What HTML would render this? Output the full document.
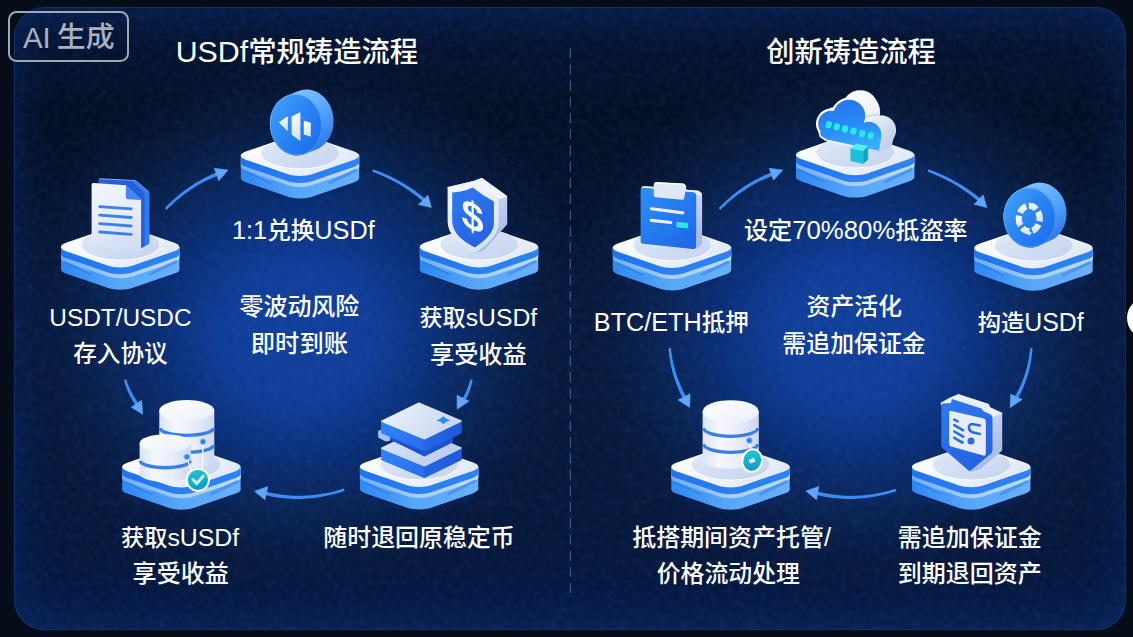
<!DOCTYPE html>
<html lang="zh-CN">
<head>
<meta charset="utf-8">
<title>USDf 铸造流程</title>
<style>
html,body{margin:0;padding:0;background:#050d19;}
body{width:1133px;height:637px;overflow:hidden;position:relative;font-family:"Liberation Sans",sans-serif;}
#stage{position:absolute;left:0;top:0;width:1133px;height:637px;overflow:hidden;background:#050d19;}
#art{position:absolute;left:0;top:0;display:block;}
.lbl{font-family:"Liberation Sans","Noto Sans CJK SC",sans-serif;font-weight:500;}
.panel{position:absolute;left:14px;top:7px;width:1112px;height:622.5px;border-radius:30px;background:linear-gradient(180deg,#071738 0%,#040f22 17%,#061738 50%,#06173a 88%,#081c46 100%);box-shadow:inset 0 0 46px 2px rgba(14,56,130,.42),inset 0 0 0 1px rgba(18,66,150,.55);}
.badge{position:absolute;box-sizing:border-box;left:8px;top:10.5px;width:121.2px;height:51.2px;border:2.5px solid #a0a8b6;border-radius:8.5px;background:transparent;}
</style>
</head>
<body>
<div id="stage">
<div class="panel"></div>
<svg id="art" width="1133" height="637" viewBox="0 0 1133 637">
<defs>
<radialGradient id="glow" cx="0" cy="0" r="1" gradientUnits="userSpaceOnUse" gradientTransform="translate(300 334) scale(300 275)">
<stop offset="0" stop-color="#11409b"/><stop offset=".25" stop-color="#103e97"/><stop offset=".37" stop-color="#0d3584"/><stop offset=".45" stop-color="#0b2f76"/><stop offset=".65" stop-color="#0a2454" stop-opacity=".95"/><stop offset=".82" stop-color="#091c40" stop-opacity=".7"/><stop offset="1" stop-color="#081a3c" stop-opacity="0"/>
</radialGradient>
<radialGradient id="glow2" cx="0" cy="0" r="1" gradientUnits="userSpaceOnUse" gradientTransform="translate(854 334) scale(300 275)">
<stop offset="0" stop-color="#11409b"/><stop offset=".25" stop-color="#103e97"/><stop offset=".37" stop-color="#0d3584"/><stop offset=".45" stop-color="#0b2f76"/><stop offset=".65" stop-color="#0a2454" stop-opacity=".95"/><stop offset=".82" stop-color="#091c40" stop-opacity=".7"/><stop offset="1" stop-color="#081a3c" stop-opacity="0"/>
</radialGradient>
<linearGradient id="ptop" x1="0" y1="0" x2="1" y2=".6">
<stop offset="0" stop-color="#ffffff"/><stop offset=".55" stop-color="#f2f6fd"/><stop offset="1" stop-color="#dfe8f8"/>
</linearGradient>
<linearGradient id="pind" x1="0" y1="0" x2="1" y2="1">
<stop offset="0" stop-color="#e3eaf8"/><stop offset="1" stop-color="#c3d2ef"/>
</linearGradient>
<linearGradient id="pb1" x1="0" y1="0" x2="1" y2="0">
<stop offset="0" stop-color="#1f73f0"/><stop offset=".5" stop-color="#2a7ff2"/><stop offset="1" stop-color="#2d83f3"/>
</linearGradient>
<linearGradient id="plt" x1="0" y1="0" x2="1" y2="0">
<stop offset="0" stop-color="#6cadf7"/><stop offset=".5" stop-color="#a8cefa"/><stop offset="1" stop-color="#bfdbfc"/>
</linearGradient>
<linearGradient id="pb2" x1="0" y1="0" x2="1" y2="0">
<stop offset="0" stop-color="#2f88f4"/><stop offset=".5" stop-color="#58a7f8"/><stop offset="1" stop-color="#69b1fa"/>
</linearGradient>
<pattern id="spk" width="131" height="113" patternUnits="userSpaceOnUse">
<g fill="#3f6fc4"><circle cx="12" cy="18" r="2.2" opacity=".05"/><circle cx="47" cy="9" r="1.6" opacity=".06"/><circle cx="88" cy="27" r="2.6" opacity=".04"/><circle cx="120" cy="50" r="1.8" opacity=".06"/><circle cx="30" cy="60" r="2.8" opacity=".04"/><circle cx="70" cy="74" r="1.5" opacity=".07"/><circle cx="104" cy="92" r="2.3" opacity=".05"/><circle cx="18" cy="99" r="1.7" opacity=".06"/><circle cx="58" cy="41" r="1.2" opacity=".07"/><circle cx="95" cy="62" r="1.3" opacity=".06"/><circle cx="40" cy="88" r="2" opacity=".04"/><circle cx="125" cy="8" r="1.4" opacity=".06"/></g>
</pattern>
<filter id="nz" x="0" y="0" width="100%" height="100%" color-interpolation-filters="sRGB"><feTurbulence type="fractalNoise" baseFrequency=".15" numOctaves="1" seed="7" result="n"/><feColorMatrix in="n" type="matrix" values="0 0 0 0 .22  0 0 0 0 .42  0 0 0 0 .82  1.8 0 0 0 -.66"/></filter>
<clipPath id="panelclip"><rect x="14" y="7" width="1112" height="622.5" rx="30" ry="30"/></clipPath>
<linearGradient id="docf" x1="0" y1="0" x2=".25" y2="1"><stop offset="0" stop-color="#f2f5fc"/><stop offset=".6" stop-color="#e6ecf9"/><stop offset="1" stop-color="#d5dff4"/></linearGradient>
<linearGradient id="coinf" x1=".1" y1=".1" x2=".9" y2=".95"><stop offset="0" stop-color="#3f9ef9"/><stop offset=".45" stop-color="#2b85f4"/><stop offset="1" stop-color="#1d6ce9"/></linearGradient>
<linearGradient id="coins" x1=".3" y1="0" x2=".8" y2="1"><stop offset="0" stop-color="#86c7fd"/><stop offset=".45" stop-color="#55a5f8"/><stop offset="1" stop-color="#2a6fe6"/></linearGradient>
<linearGradient id="symw" x1="0" y1="0" x2=".4" y2="1"><stop offset="0" stop-color="#ffffff"/><stop offset="1" stop-color="#d6e4fb"/></linearGradient>
<linearGradient id="shf" x1="0" y1="0" x2=".6" y2="1"><stop offset="0" stop-color="#2f7af0"/><stop offset="1" stop-color="#2463e2"/></linearGradient>
<linearGradient id="shw" x1="0" y1="0" x2=".5" y2="1"><stop offset="0" stop-color="#f6f8fd"/><stop offset="1" stop-color="#d9e3f6"/></linearGradient>
<linearGradient id="shs" x1="0" y1="0" x2=".3" y2="1"><stop offset="0" stop-color="#dce5f7"/><stop offset="1" stop-color="#a9bce7"/></linearGradient>
<linearGradient id="blkT" x1="0" y1="0" x2="1" y2=".3"><stop offset="0" stop-color="#eef3fc"/><stop offset="1" stop-color="#cbd8f2"/></linearGradient>
<linearGradient id="blkT2" x1="0" y1="0" x2="1" y2=".3"><stop offset="0" stop-color="#dbe5f8"/><stop offset="1" stop-color="#bccdf0"/></linearGradient>
<linearGradient id="blkL" x1="0" y1="0" x2="1" y2=".4"><stop offset="0" stop-color="#2f86f5"/><stop offset="1" stop-color="#2a70ee"/></linearGradient>
<linearGradient id="blkR" x1="0" y1="0" x2="1" y2="0"><stop offset="0" stop-color="#2566e4"/><stop offset="1" stop-color="#1f5ad8"/></linearGradient>
<linearGradient id="cylb" x1="0" y1="0" x2="1" y2="0"><stop offset="0" stop-color="#dbe4f6"/><stop offset=".3" stop-color="#f4f7fd"/><stop offset=".65" stop-color="#e7edf9"/><stop offset="1" stop-color="#ccd8f1"/></linearGradient>
<linearGradient id="cylt" x1="0" y1="0" x2="1" y2="1"><stop offset="0" stop-color="#ffffff"/><stop offset="1" stop-color="#e9eefa"/></linearGradient>
<linearGradient id="teal" x1="0" y1="0" x2=".3" y2="1"><stop offset="0" stop-color="#28cbdb"/><stop offset="1" stop-color="#0c9cc2"/></linearGradient>
<linearGradient id="clipf" x1="0" y1="0" x2=".8" y2="1"><stop offset="0" stop-color="#2d90f7"/><stop offset="1" stop-color="#1e69e8"/></linearGradient>
<linearGradient id="cldf" gradientUnits="userSpaceOnUse" x1="-10" y1="-55" x2="0" y2="-5"><stop offset="0" stop-color="#2873ef"/><stop offset=".55" stop-color="#2b8cf5"/><stop offset="1" stop-color="#36b0f9"/></linearGradient>
<linearGradient id="cldw" gradientUnits="userSpaceOnUse" x1="-20" y1="-60" x2="35" y2="-5"><stop offset="0" stop-color="#ffffff"/><stop offset=".5" stop-color="#eef2fb"/><stop offset="1" stop-color="#bccbec"/></linearGradient>
<g id="plat">
<ellipse cx="0" cy="27" rx="56" ry="17" fill="#0a2a78" opacity=".2"/>
<path d="M12.02,3.72L54.22,18.26C60.86,20.55 60.86,24.25 54.22,26.54L12.02,41.08C5.38,43.37 -5.38,43.37 -12.02,41.08L-54.22,26.54C-60.86,24.25 -60.86,20.55 -54.22,18.26L-12.02,3.72C-5.38,1.43 5.38,1.43 12.02,3.72Z" fill="url(#pb2)"/><rect x="-59.2" y="0" width="118.4" height="22.4" fill="url(#pb2)"/>
<path d="M12.02,-7.78L54.22,6.76C60.86,9.05 60.86,12.75 54.22,15.04L12.02,29.58C5.38,31.87 -5.38,31.87 -12.02,29.58L-54.22,15.04C-60.86,12.75 -60.86,9.05 -54.22,6.76L-12.02,-7.78C-5.38,-10.07 5.38,-10.07 12.02,-7.78Z" fill="url(#plt)"/><rect x="-59.2" y="0" width="118.4" height="10.9" fill="url(#plt)"/>
<path d="M12.02,-11.78L54.22,2.76C60.86,5.05 60.86,8.75 54.22,11.04L12.02,25.58C5.38,27.87 -5.38,27.87 -12.02,25.58L-54.22,11.04C-60.86,8.75 -60.86,5.05 -54.22,2.76L-12.02,-11.78C-5.38,-14.07 5.38,-14.07 12.02,-11.78Z" fill="url(#pb1)"/><rect x="-59.2" y="0" width="118.4" height="6.9" fill="url(#pb1)"/>
<path d="M12.02,-18.68L54.22,-4.14C60.86,-1.85 60.86,1.85 54.22,4.14L12.02,18.68C5.38,20.97 -5.38,20.97 -12.02,18.68L-54.22,4.14C-60.86,1.85 -60.86,-1.85 -54.22,-4.14L-12.02,-18.68C-5.38,-20.97 5.38,-20.97 12.02,-18.68Z" fill="url(#ptop)"/>
<ellipse cx="0.2" cy="-2.2" rx="38.8" ry="15.2" fill="url(#pind)"/>
<path d="M-37.6,1.4A38.8,15.2 0 0 0 38,1.4" fill="none" stroke="#fff" stroke-opacity=".8" stroke-width="1"/>
<path d="M-55.2,15.2L-29.8,26.8" stroke="#2a78e8" stroke-width="2.4" stroke-linecap="round" opacity=".55"/><path d="M-55.2,13.6L-29.8,25.2" stroke="#7dbafa" stroke-width="1" stroke-linecap="round" opacity=".75"/>
<path d="M30,27L56,14.6" stroke="#4590f2" stroke-width="3" stroke-linecap="round" opacity=".85"/>
</g>
</defs>
<!-- panel glows -->
<g clip-path="url(#panelclip)">
<rect x="14" y="7" width="1112" height="623" fill="url(#glow)"/>
<rect x="14" y="7" width="1112" height="623" fill="url(#glow2)"/>
<rect x="14" y="7" width="1112" height="623" filter="url(#nz)" opacity=".13"/>
<rect x="14" y="7" width="1112" height="623" fill="url(#spk)"/>
</g>
<!-- divider -->
<line x1="570.4" y1="48.3" x2="570.4" y2="594.5" stroke="#5b7db4" stroke-opacity=".6" stroke-width="1.3" stroke-dasharray="10 6.2"/>
<!-- white blob at right edge -->
<circle cx="1147.8" cy="318" r="20.8" fill="#fff"/>
<!-- arrows -->
<path d="M166.6,209.9L168.6,207.8L170.7,205.9L172.7,203.9L174.8,202.1L176.9,200.2L179.0,198.5L181.2,196.7L183.3,195.1L185.5,193.5L187.6,191.9L189.8,190.4L192.0,188.9L194.2,187.5L196.5,186.1L198.7,184.8L201.0,183.5L203.3,182.3L205.5,181.1L207.9,180.0L210.2,179.0L212.5,177.9L214.9,177.0L217.2,176.1L219.6,175.2L218.4,171.8L216.0,172.7L213.5,173.7L211.1,174.8L208.8,175.8L206.4,177.0L204.0,178.2L201.7,179.4L199.4,180.7L197.1,182.0L194.8,183.4L192.6,184.9L190.3,186.4L188.1,187.9L185.9,189.5L183.7,191.1L181.5,192.8L179.4,194.6L177.3,196.3L175.1,198.2L173.0,200.1L170.9,202.0L168.9,204.0L166.8,206.0L164.8,208.1Z" fill="#3b8df6"/><path d="M228.1,170.1L214.3,168.2L218.8,180.8Z" fill="#62a4f8" stroke="#62a4f8" stroke-width=".6" stroke-linejoin="round"/>
<path d="M372.2,171.7L374.6,172.6L377.0,173.5L379.3,174.5L381.7,175.5L384.0,176.5L386.3,177.6L388.6,178.7L390.8,179.8L393.0,180.9L395.2,182.1L397.4,183.3L399.5,184.6L401.6,185.8L403.7,187.1L405.8,188.5L407.8,189.8L409.9,191.2L411.9,192.7L413.8,194.1L415.8,195.6L417.7,197.1L419.6,198.7L421.5,200.3L423.3,201.9L425.7,199.1L423.8,197.5L421.8,196.0L419.8,194.4L417.8,192.9L415.8,191.4L413.8,190.0L411.7,188.5L409.6,187.2L407.5,185.8L405.4,184.5L403.2,183.2L401.0,181.9L398.8,180.7L396.6,179.5L394.3,178.3L392.1,177.2L389.8,176.1L387.4,175.1L385.1,174.0L382.7,173.0L380.3,172.0L377.9,171.1L375.5,170.2L373.0,169.3Z" fill="#3b8df6"/><path d="M431.4,207.5L427.9,195.2L418.5,204.6Z" fill="#62a4f8" stroke="#62a4f8" stroke-width=".6" stroke-linejoin="round"/>
<path d="M470.3,379.3L470.0,380.3L469.8,381.2L469.6,382.1L469.3,383.0L469.0,383.9L468.7,384.8L468.4,385.6L468.1,386.5L467.8,387.3L467.5,388.2L467.2,389.0L466.8,389.8L466.5,390.7L466.1,391.5L465.7,392.3L465.4,393.1L465.0,393.8L464.6,394.6L464.2,395.4L463.7,396.1L463.3,396.9L462.9,397.6L462.4,398.3L462.0,399.1L465.0,400.9L465.5,400.1L465.9,399.4L466.3,398.5L466.8,397.7L467.2,396.9L467.6,396.1L467.9,395.3L468.3,394.4L468.7,393.6L469.0,392.7L469.3,391.8L469.7,391.0L470.0,390.1L470.3,389.2L470.6,388.3L470.9,387.4L471.1,386.5L471.4,385.5L471.6,384.6L471.9,383.7L472.1,382.7L472.3,381.8L472.5,380.8L472.7,379.9Z" fill="#3b8df6"/><path d="M457.2,409.2L457.0,395.2L469.0,401.2Z" fill="#62a4f8" stroke="#62a4f8" stroke-width=".6" stroke-linejoin="round"/>
<path d="M343.9,488.5L340.5,489.5L337.1,490.5L333.7,491.4L330.3,492.2L327.0,492.9L323.6,493.5L320.3,494.1L316.9,494.6L313.6,495.0L310.3,495.3L307.0,495.5L303.8,495.7L300.5,495.8L297.2,495.8L294.0,495.7L290.8,495.6L287.6,495.3L284.4,495.0L281.2,494.6L278.0,494.1L274.9,493.6L271.7,493.0L268.6,492.2L265.4,491.5L264.6,494.9L267.8,495.7L271.0,496.4L274.2,497.0L277.5,497.5L280.8,498.0L284.0,498.3L287.3,498.6L290.6,498.8L293.9,498.9L297.2,498.9L300.6,498.9L303.9,498.7L307.2,498.5L310.6,498.2L314.0,497.9L317.3,497.4L320.7,496.9L324.1,496.3L327.5,495.6L330.9,494.8L334.4,493.9L337.8,493.0L341.2,492.0L344.7,490.9Z" fill="#3b8df6"/><path d="M254.6,491.3L267.8,486.5L264.9,499.7Z" fill="#62a4f8" stroke="#62a4f8" stroke-width=".6" stroke-linejoin="round"/>
<path d="M123.9,379.9L124.2,381.1L124.5,382.2L124.9,383.3L125.2,384.4L125.6,385.5L126.0,386.6L126.4,387.7L126.8,388.8L127.2,389.9L127.7,391.0L128.1,392.0L128.6,393.1L129.1,394.1L129.6,395.1L130.1,396.2L130.6,397.2L131.2,398.2L131.7,399.2L132.3,400.2L132.9,401.2L133.5,402.2L134.1,403.1L134.7,404.1L135.3,405.0L138.3,403.0L137.6,402.1L137.0,401.2L136.4,400.3L135.8,399.4L135.2,398.4L134.6,397.5L134.0,396.6L133.4,395.6L132.9,394.7L132.4,393.7L131.9,392.7L131.4,391.7L130.9,390.7L130.4,389.7L129.9,388.7L129.5,387.7L129.0,386.7L128.6,385.7L128.2,384.6L127.8,383.6L127.4,382.5L127.0,381.4L126.6,380.3L126.3,379.3Z" fill="#3b8df6"/><path d="M142.7,414.3L141.7,400.2L131.2,407.2Z" fill="#62a4f8" stroke="#62a4f8" stroke-width=".6" stroke-linejoin="round"/>
<path d="M720.4,209.9L722.4,207.8L724.5,205.9L726.6,203.9L728.7,202.1L730.8,200.2L733.0,198.5L735.1,196.8L737.3,195.1L739.5,193.5L741.7,191.9L744.0,190.4L746.2,188.9L748.5,187.5L750.8,186.1L753.1,184.8L755.4,183.5L757.7,182.3L760.1,181.1L762.5,180.0L764.8,179.0L767.3,177.9L769.7,177.0L772.1,176.1L774.6,175.2L773.4,171.8L770.9,172.7L768.4,173.7L765.9,174.8L763.5,175.8L761.0,177.0L758.6,178.2L756.2,179.4L753.8,180.7L751.5,182.0L749.1,183.4L746.8,184.9L744.5,186.3L742.3,187.9L740.0,189.5L737.8,191.1L735.6,192.8L733.4,194.5L731.2,196.3L729.1,198.2L726.9,200.1L724.8,202.0L722.7,204.0L720.7,206.0L718.6,208.1Z" fill="#3b8df6"/><path d="M782.9,170.1L769.1,168.2L773.5,180.2Z" fill="#62a4f8" stroke="#62a4f8" stroke-width=".6" stroke-linejoin="round"/>
<path d="M927.5,171.7L929.9,172.6L932.2,173.5L934.6,174.5L936.9,175.5L939.2,176.5L941.5,177.6L943.7,178.7L946.0,179.8L948.2,180.9L950.4,182.1L952.6,183.3L954.7,184.6L956.8,185.8L958.9,187.1L961.0,188.5L963.1,189.8L965.1,191.2L967.2,192.7L969.2,194.1L971.1,195.6L973.1,197.1L975.0,198.7L976.9,200.3L978.8,201.9L981.2,199.1L979.2,197.5L977.2,195.9L975.2,194.4L973.2,192.9L971.1,191.4L969.1,190.0L967.0,188.5L964.9,187.2L962.7,185.8L960.6,184.5L958.4,183.2L956.2,181.9L954.0,180.7L951.8,179.5L949.5,178.3L947.3,177.2L945.0,176.1L942.7,175.1L940.3,174.0L938.0,173.0L935.6,172.0L933.2,171.1L930.8,170.2L928.3,169.3Z" fill="#3b8df6"/><path d="M986.9,207.5L983.2,195.0L974.1,204.3Z" fill="#62a4f8" stroke="#62a4f8" stroke-width=".6" stroke-linejoin="round"/>
<path d="M1030.2,348.0L1029.9,350.3L1029.6,352.5L1029.3,354.8L1029.0,357.0L1028.6,359.2L1028.2,361.4L1027.8,363.5L1027.3,365.6L1026.8,367.7L1026.2,369.8L1025.6,371.8L1025.0,373.8L1024.4,375.8L1023.7,377.8L1023.0,379.7L1022.2,381.6L1021.4,383.5L1020.6,385.4L1019.7,387.2L1018.9,389.1L1017.9,390.9L1017.0,392.6L1016.0,394.4L1015.0,396.1L1018.0,397.9L1019.1,396.1L1020.1,394.3L1021.0,392.4L1021.9,390.6L1022.8,388.7L1023.6,386.7L1024.4,384.8L1025.2,382.8L1025.9,380.8L1026.6,378.8L1027.3,376.8L1027.9,374.7L1028.5,372.6L1029.1,370.5L1029.6,368.4L1030.1,366.2L1030.5,364.1L1030.9,361.9L1031.3,359.7L1031.6,357.4L1031.9,355.1L1032.2,352.9L1032.4,350.5L1032.6,348.2Z" fill="#3b8df6"/><path d="M1010.1,407.8L1010.7,394.2L1022.2,399.4Z" fill="#62a4f8" stroke="#62a4f8" stroke-width=".6" stroke-linejoin="round"/>
<path d="M895.5,488.8L892.1,489.8L888.8,490.8L885.4,491.6L882.0,492.4L878.7,493.1L875.4,493.7L872.1,494.3L868.8,494.7L865.5,495.1L862.2,495.4L858.9,495.6L855.7,495.8L852.4,495.8L849.2,495.8L846.0,495.8L842.7,495.6L839.5,495.3L836.4,495.0L833.2,494.6L830.0,494.1L826.9,493.6L823.7,493.0L820.6,492.2L817.4,491.5L816.6,494.9L819.8,495.7L823.0,496.4L826.2,497.0L829.5,497.5L832.7,498.0L836.0,498.3L839.3,498.6L842.6,498.8L845.9,498.9L849.2,499.0L852.5,498.9L855.8,498.8L859.1,498.6L862.5,498.3L865.8,498.0L869.1,497.6L872.5,497.0L875.9,496.4L879.3,495.8L882.6,495.0L886.0,494.2L889.4,493.3L892.9,492.3L896.3,491.2Z" fill="#3b8df6"/><path d="M805.9,491.0L818.8,486.5L816.5,499.7Z" fill="#62a4f8" stroke="#62a4f8" stroke-width=".6" stroke-linejoin="round"/>
<path d="M668.5,348.2L668.6,350.4L668.9,352.6L669.1,354.7L669.4,356.9L669.7,359.0L670.1,361.1L670.5,363.2L670.9,365.4L671.4,367.5L671.9,369.6L672.4,371.6L673.0,373.7L673.6,375.8L674.3,377.8L674.9,379.9L675.7,381.9L676.4,383.9L677.2,385.9L678.0,388.0L678.9,390.0L679.7,391.9L680.7,393.9L681.6,395.9L682.6,397.8L685.8,396.2L684.8,394.3L683.8,392.4L682.9,390.5L682.0,388.6L681.1,386.6L680.3,384.7L679.5,382.7L678.7,380.8L677.9,378.8L677.2,376.8L676.6,374.8L675.9,372.8L675.3,370.8L674.8,368.8L674.2,366.8L673.7,364.7L673.3,362.7L672.8,360.6L672.4,358.5L672.1,356.4L671.7,354.3L671.4,352.2L671.2,350.1L670.9,348.0Z" fill="#3b8df6"/><path d="M689.7,407.4L690.1,393.8L678.1,399.9Z" fill="#62a4f8" stroke="#62a4f8" stroke-width=".6" stroke-linejoin="round"/>
<!-- icons -->
<g transform="translate(120.2 247.0)"><use href="#plat"/><g>
<!-- back sheet: side + face -->
<path d="M-21.5,-66.2Q-21.5,-68.4 -19.3,-68.3L14.6,-66.5Q15.8,-66.4 16.6,-65.6L28.5,-55.2Q29.3,-54.4 29.3,-53.2L29.3,-4.5Q29.3,-3.4 28.3,-2.8L21,1.2L-21.5,-10Z" fill="#2f7aee"/>
<path d="M-21.5,-66.2Q-21.5,-68.4 -19.3,-68.3L10.5,-66.7L24.4,-53.5L24.4,-1L20.9,1L-21.5,-10Z" fill="#2560dc"/>
<path d="M-21.4,-67.4Q-20.8,-68.4 -19.3,-68.3L14.6,-66.5Q15.8,-66.4 16.6,-65.6L28.5,-55.2" fill="none" stroke="#bcd6fb" stroke-width=".8" opacity=".8"/>
<!-- front sheet -->
<path d="M-28.6,-62Q-28.6,-64.1 -26.5,-63.9L5.7,-61.7L20.9,-47L20.9,2.6Q20.9,4.4 19.1,4.2L-26.8,-0.5Q-28.6,-0.7 -28.6,-2.5Z" fill="url(#docf)"/>
<path d="M5.7,-61.7L20.9,-47L7.6,-47.8Q5.7,-47.9 5.7,-49.8Z" fill="#3f86f1"/>
<g stroke="#3a80ee" stroke-width="2.8" stroke-linecap="round">
<path d="M-20.6,-40.4L11,-38.1"/><path d="M-20.6,-31.8L11,-29.5"/><path d="M-20.6,-23.3L11,-21"/><path d="M-20.6,-15L11,-12.7"/>
</g>
</g>
</g>
<g transform="translate(300.0 155.6)"><use href="#plat"/><g><path d="M-14.1,-59.5L-2.7,-64.1L-0.5,-64.9L1.7,-65.5L3.9,-65.9L6.2,-66.0L8.5,-66.0L10.8,-65.6L13.0,-65.1L15.2,-64.3L17.4,-63.3L19.4,-62.1L21.4,-60.7L23.3,-59.1L25.0,-57.3L26.6,-55.3L28.1,-53.2L29.4,-51.0L30.6,-48.6L31.5,-46.1L32.3,-43.6L32.9,-41.0L33.3,-38.4L33.5,-35.7L33.5,-33.0L33.3,-30.4L33.0,-27.7L32.4,-25.2L31.6,-22.7L30.6,-20.3L29.5,-18.1L28.2,-15.9L26.7,-13.9L25.1,-12.1L23.4,-10.5L21.5,-9.0L19.5,-7.7L17.5,-6.7L6.1,-2.1L3.9,-1.3L1.7,-0.7L-0.5,-0.3L-2.8,-0.2L-5.1,-0.2L-7.4,-0.6L-9.6,-1.1L-11.8,-1.9L-14.0,-2.9L-16.0,-4.1L-18.0,-5.5L-19.9,-7.1L-21.6,-8.9L-23.2,-10.9L-24.7,-13.0L-26.0,-15.2L-27.2,-17.6L-28.1,-20.1L-28.9,-22.6L-29.5,-25.2L-29.9,-27.8L-30.1,-30.5L-30.1,-33.2L-29.9,-35.8L-29.6,-38.5L-29.0,-41.0L-28.2,-43.5L-27.2,-45.9L-26.1,-48.1L-24.8,-50.3L-23.3,-52.3L-21.7,-54.1L-20.0,-55.7L-18.1,-57.2L-16.1,-58.5Z" fill="url(#coins)"/><ellipse cx="-4.0" cy="-30.8" rx="26.1" ry="30.7" transform="rotate(-6.5 -4.0 -30.8)" fill="url(#coinf)"/><ellipse cx="-4.0" cy="-30.8" rx="25.6" ry="30.2" transform="rotate(-6.5 -4.0 -30.8)" fill="none" stroke="#6db6fb" stroke-opacity=".55" stroke-width=".9"/><g fill="url(#symw)" stroke="url(#symw)" stroke-width="1.2" stroke-linejoin="round"><path d="M-20.3,-33.2L-12.8,-38.4L-12.8,-25.4Z"/><path d="M-7.8,-38.6L-0.2,-42.6L-0.2,-15.6L-7.8,-21.4Z"/><path d="M4.4,-34.2L10.2,-32.4L10.2,-19.6L4.4,-21.4Z"/></g></g></g>
<g transform="translate(479.0 247.0)"><use href="#plat"/><g>
<!-- side / top thickness -->
<path d="M-30.8,-59.3L-5.8,-65.2L2.7,-68.4L27.5,-50.6L27.5,-23L4.8,2.5L-3.7,5Z" fill="url(#shs)" stroke="url(#shs)" stroke-width="1.4" stroke-linejoin="round"/>
<path d="M-30.8,-59.3L-5.8,-65.2L2.7,-68.4L27.5,-50.6L19,-48L-5.8,-65Z" fill="#eef3fc" stroke="#eef3fc" stroke-width="1.2" stroke-linejoin="round"/>
<!-- front white rim -->
<path d="M-30.8,-58.6Q-18,-59.5 -5.8,-65Q5,-55.5 19,-48L19,-24Q19,-10 -3.7,5Q-30.8,-8 -30.8,-26Z" fill="url(#shw)" stroke="url(#shw)" stroke-width="1.2" stroke-linejoin="round"/>
<!-- blue inner -->
<path d="M-26.8,-54.6Q-16,-55 -6.2,-59.6Q3.5,-51.5 14.9,-45.4L14.9,-23.6Q14.9,-12.4 -4.2,0.4Q-26.8,-10.5 -26.8,-26.4Z" fill="url(#shf)"/>
<g transform="translate(-17.6 -21.9) skewY(24) scale(.040)"><path d="M542 -201Q542 -113 483 -64Q423 -16 307 -11V74H254V-10Q149 -14 90 -59Q32 -105 13 -199L138 -222Q147 -167 175 -141Q203 -116 254 -111V-302Q252 -303 247 -304Q241 -305 239 -305Q160 -323 119 -348Q79 -373 57 -410Q35 -448 35 -503Q35 -584 91 -628Q147 -673 254 -677V-742H307V-677Q371 -674 414 -656Q457 -639 483 -604Q509 -570 525 -506L396 -487Q389 -529 367 -552Q346 -576 307 -581V-409L312 -408Q327 -408 399 -385Q471 -361 506 -316Q542 -270 542 -201ZM254 -583Q163 -576 163 -505Q163 -483 171 -469Q178 -455 193 -446Q207 -437 254 -421ZM415 -199Q415 -224 406 -239Q397 -254 381 -264Q364 -274 307 -290V-111Q415 -118 415 -199Z" fill="#fff"/></g>
</g>
</g>
<g transform="translate(419.1 466.6)"><use href="#plat"/><g><path d="M-37.2,-18.4L5.3,-0.8L5.3,10.6L-37.2,-7.0Z" fill="url(#blkL)" stroke="url(#blkL)" stroke-width="1.6" stroke-linejoin="round"/><path d="M5.3,-0.8L41.8,-18.5L41.8,-7.1L5.3,10.6Z" fill="url(#blkR)" stroke="url(#blkR)" stroke-width="1.6" stroke-linejoin="round"/><path d="M-37.2,-18.4L-0.2,-36.4L41.8,-18.5L5.3,-0.8Z" fill="url(#blkT2)" stroke="url(#blkT2)" stroke-width="1.6" stroke-linejoin="round"/><path d="M-30.5,-34L5.3,-16.5L33.2,-29.6L33.2,-24.4L5.3,-10.6L-30.5,-28.2Z" fill="#1c52d2" stroke="#1c52d2" stroke-width="1" stroke-linejoin="round"/><path d="M-40.3,-35.4L-31,-39L-29.5,-26.5L-33,-25.6L-40.3,-29.4Z" fill="#a3c2f6" stroke="#a3c2f6" stroke-width="1.2" stroke-linejoin="round"/><path d="M-37.2,-45.4L5.3,-27.8L5.3,-16.2L-37.2,-33.8Z" fill="url(#blkL)" stroke="url(#blkL)" stroke-width="1.6" stroke-linejoin="round"/><path d="M5.3,-27.8L41.8,-45.5L41.8,-33.9L5.3,-16.2Z" fill="url(#blkR)" stroke="url(#blkR)" stroke-width="1.6" stroke-linejoin="round"/><path d="M-37.2,-45.4L-0.2,-63.4L41.8,-45.5L5.3,-27.8Z" fill="url(#blkT)" stroke="url(#blkT)" stroke-width="1.6" stroke-linejoin="round"/><path d="M17.1,-46.4Q21.6,-47.6 24.3,-50.4Q27,-47.6 31.5,-46.4Q27,-45.2 24.3,-42.4Q21.6,-45.2 17.1,-46.4Z" fill="#2f8cf6"/></g></g>
<g transform="translate(181.4 467.0)"><use href="#plat"/><g><path d="M-22.1,-56.3L-22.1,-8.3A27.5,9.1 0 0 0 32.9,-8.3L32.9,-56.3Z" fill="url(#cylb)"/><path d="M-21.2,-39.0A26.6,7.4 0 0 0 32.0,-39.0" fill="none" stroke="#3a7eea" stroke-width="3.4"/><path d="M-21.2,-22.0A26.6,7.4 0 0 0 32.0,-22.0" fill="none" stroke="#3a7eea" stroke-width="3.4"/><ellipse cx="5.4" cy="-56.3" rx="27.5" ry="10.7" fill="url(#cylt)"/><path d="M-41.8,-23.8L-41.8,7.2A25.7,7.6 0 0 0 9.6,7.2L9.6,-23.8Z" fill="url(#cylb)"/><path d="M-40.9,-6.3A24.8,7.0 0 0 0 8.7,-6.3" fill="none" stroke="#3a7eea" stroke-width="3.4"/><ellipse cx="-16.1" cy="-23.8" rx="25.7" ry="8.9" fill="url(#cylt)"/><path d="M21.6,-25L21.1,2M5.4,-10L9.4,3" stroke="#fff" stroke-width="1.2" fill="none"/><circle cx="21.6" cy="-25.4" r="2.9" fill="#2f80f0" stroke="#9cc6fa" stroke-width="1"/><circle cx="5.4" cy="-10.2" r="2.9" fill="#2f80f0" stroke="#9cc6fa" stroke-width="1"/><circle cx="16.5" cy="12.8" r="11.1" fill="url(#teal)" stroke="#fff" stroke-width="2"/><path d="M11.6,12.6L15.2,16.6L21.8,9.2" fill="none" stroke="#c9f5fa" stroke-width="3" stroke-linecap="round" stroke-linejoin="round"/></g></g>
<g transform="translate(672.0 247.6)"><use href="#plat"/><g>
<!-- side -->
<path d="M-28.6,-61.6L26.2,-56.8Q30.1,-55.2 30.1,-51.6L30.1,-5Q30.1,-3 28.6,-1.8L24.1,1.6L24.1,-55Z" fill="url(#shs)"/>
<path d="M-31,-58.6Q-30.6,-61.8 -27.6,-61.7L26.2,-56.8Q29.6,-55.6 30.1,-52L24,-52.5Z" fill="#e9effb"/>
<!-- front -->
<path d="M-31.4,-56.8Q-31.4,-60.1 -28.1,-59.8L21.3,-55.3Q24.1,-55 24.1,-52.2L24.1,-1.6Q24.1,1.8 20.8,1.4L-28.6,-3.8Q-31.4,-4.1 -31.4,-6.9Z" fill="url(#clipf)"/>
<!-- clip -->
<path d="M-16.6,-65.4L11.6,-63.8Q14.4,-62.6 14.2,-59.4L12,-49Q11.6,-47.6 10,-47.8L-16.6,-50.4Q-18.3,-50.6 -18.3,-52.3L-18.3,-62.4Q-18.3,-64.3 -16.4,-64.2Z" fill="#dfe7f7"/>
<path d="M-18.3,-62.6Q-18.2,-65.6 -15.4,-65.6L11.2,-64.2Q14,-63.4 14.2,-60.2Q13,-62.4 10.4,-62.6L-16.4,-64.1Q-18,-64 -18.3,-62.4Z" fill="#fbfcff"/>
<!-- lines -->
<path d="M-20.6,-38.9L10.8,-34.7" stroke="#e9effb" stroke-width="3.1" stroke-linecap="round"/>
<path d="M-20.6,-27.2L-1.2,-25.1" stroke="#e9effb" stroke-width="3.1" stroke-linecap="round"/>
<path d="M4.9,-25.3L15.7,-24.2L15.7,-19.6L4.9,-20.8Z" fill="#2fe6e0" stroke="#2fe6e0" stroke-width="1" stroke-linejoin="round"/>
<g fill="#37e0e6" opacity=".55"><circle cx="-20" cy="-19.6" r=".5"/><circle cx="-16" cy="-20.6" r=".5"/><circle cx="-12" cy="-18" r=".5"/><circle cx="-8" cy="-19.8" r=".5"/><circle cx="-4" cy="-17.6" r=".5"/><circle cx="0" cy="-19" r=".5"/><circle cx="-17.4" cy="-16" r=".5"/><circle cx="-10" cy="-15.2" r=".5"/><circle cx="-2" cy="-14.8" r=".5"/><circle cx="3" cy="-15.6" r=".5"/></g>
</g>
</g>
<g transform="translate(855.2 154.8)"><use href="#plat"/><g>
<!-- white body with thickness (swept) -->
<g stroke="url(#cldw)" fill="url(#cldw)" stroke-linecap="round" stroke-linejoin="round">
<path d="M-24,-31l12.7,-4.2" stroke-width="30.4"/>
<path d="M-6,-39l12.7,-4.2" stroke-width="36.4"/>
<path d="M13.5,-20.5l12.7,-4.2" stroke-width="29.4"/>
<circle cx="5" cy="-46.4" r="16.6" stroke-width="3"/>
<path d="M-34.5,-22L-24,-31L-6,-39L6.7,-43.2L26.7,-23.7L37.6,-22.6L34.4,-9.6L23,-4.6L-28.5,-15.6L-33.5,-19Z" stroke-width="4.4"/>
</g>
<path d="M10.5,-37.5Q17,-41 22,-39.5" fill="none" stroke="#c3d1ee" stroke-width="1.6" stroke-linecap="round" opacity=".8"/>
<!-- blue face -->
<g fill="url(#cldf)" stroke="url(#cldf)">
<circle cx="-24" cy="-31" r="13" stroke="none"/><circle cx="-6" cy="-39" r="16" stroke="none"/><circle cx="13.5" cy="-20.5" r="12.5" stroke="none"/>
<path d="M-34.5,-22L-24,-31L-6,-39L13.5,-20.5L25.6,-19L23.3,-5L-28.5,-16L-33.5,-19Z" stroke-width="1.2" stroke-linejoin="round"/>
</g>
<!-- dots -->
<g fill="#25ebe6">
<rect x="-29.5" y="-33.5" width="6" height="7" rx="2.4" transform="rotate(12 -26.5 -30)"/>
<rect x="-21.4" y="-31.4" width="6" height="7" rx="2.4" transform="rotate(12 -18.4 -27.9)"/>
<rect x="-13.2" y="-29.3" width="6" height="7" rx="2.4" transform="rotate(12 -10.2 -25.8)"/>
<rect x="-4.8" y="-27.2" width="6" height="7" rx="2.4" transform="rotate(12 -1.8 -23.7)"/>
<rect x="4" y="-24.6" width="6" height="7" rx="2.4" transform="rotate(12 7 -21.1)"/>
<rect x="12.5" y="-22.5" width="6" height="7" rx="2.4" transform="rotate(12 15.5 -19)"/>
</g>
<!-- cube -->
<g stroke-width=".8" stroke-linejoin="round">
<path d="M8,-4.4L12.6,-8.6L12.6,4.6L8,8.6Z" fill="#129fca" stroke="#129fca"/>
<path d="M-4.3,-6.6L8,-4.4L8,8.6L-4.3,6Z" fill="#1cc0dc" stroke="#1cc0dc"/>
<path d="M-4.3,-6.6L1,-10.6L12.6,-8.6L8,-4.4Z" fill="#58eeee" stroke="#58eeee"/>
</g>
</g>
</g>
<g transform="translate(1033.5 248.0)"><use href="#plat"/><g><path d="M16.9,-7.4L6.1,-2.4L3.9,-1.6L1.7,-1.0L-0.5,-0.6L-2.8,-0.4L-5.1,-0.5L-7.3,-0.8L-9.6,-1.4L-11.8,-2.1L-13.9,-3.1L-16.0,-4.3L-18.0,-5.7L-19.8,-7.2L-21.6,-9.0L-23.2,-10.9L-24.7,-12.9L-26.0,-15.1L-27.1,-17.4L-28.1,-19.8L-28.8,-22.3L-29.4,-24.9L-29.8,-27.4L-30.0,-30.1L-30.0,-32.7L-29.8,-35.3L-29.4,-37.8L-28.8,-40.3L-28.1,-42.7L-27.1,-45.1L-25.9,-47.3L-24.6,-49.4L-23.2,-51.3L-21.6,-53.1L-19.8,-54.7L-17.9,-56.2L-16.0,-57.4L-13.9,-58.4L-3.1,-63.4L-0.9,-64.2L1.3,-64.8L3.5,-65.2L5.8,-65.4L8.1,-65.3L10.3,-65.0L12.6,-64.4L14.8,-63.7L16.9,-62.7L19.0,-61.5L21.0,-60.1L22.8,-58.6L24.6,-56.8L26.2,-54.9L27.7,-52.9L29.0,-50.7L30.1,-48.4L31.1,-46.0L31.8,-43.5L32.4,-40.9L32.8,-38.4L33.0,-35.7L33.0,-33.1L32.8,-30.5L32.4,-28.0L31.8,-25.5L31.1,-23.1L30.1,-20.7L28.9,-18.5L27.6,-16.4L26.2,-14.5L24.6,-12.7L22.8,-11.1L20.9,-9.6L19.0,-8.4Z" fill="url(#coins)"/><ellipse cx="-3.9" cy="-30.4" rx="26.1" ry="30.0" transform="rotate(-6.5 -3.9 -30.4)" fill="url(#coinf)"/><ellipse cx="-3.9" cy="-30.4" rx="25.6" ry="29.5" transform="rotate(-6.5 -3.9 -30.4)" fill="none" stroke="#6db6fb" stroke-opacity=".55" stroke-width=".9"/><g fill="none" stroke="url(#symw)" stroke-width="6.2"><path d="M-4.7,-42.2A10.4,12.8 0 0 1 2.8,-38.8"/><path d="M4.6,-36.3A10.4,12.8 0 0 1 6.0,-26.6"/><path d="M5.0,-23.5A10.4,12.8 0 0 1 -1.1,-17.2"/><path d="M-3.7,-16.6A10.4,12.8 0 0 1 -11.2,-20.0"/><path d="M-13.0,-22.5A10.4,12.8 0 0 1 -14.4,-32.2"/><path d="M-13.4,-35.3A10.4,12.8 0 0 1 -7.3,-41.6"/></g><path d="M-4.8,-15.4L-1.4,-15.8L-4.6,-11.8Z" fill="#e8f0fc"/></g></g>
<g transform="translate(971.2 466.9)"><use href="#plat"/><g>
<!-- side + top thickness -->
<path d="M-29.9,-63.6L-22,-68L-12.7,-72L17.2,-62.3L18.2,-59.2L30.3,-53.6L30.3,-16.8L7.6,2.2L-1.6,4.3Z" fill="url(#shs)" stroke="url(#shs)" stroke-width="1.4" stroke-linejoin="round"/>
<path d="M-29.9,-63.6L-22,-68L-12.7,-72L17.2,-62.3L18.2,-59.2L30.3,-53.6L21.3,-50.8L12.1,-55.7L10.3,-58.5L-19.3,-67.9L-20,-63.6Z" fill="#e9effb" stroke="#e9effb" stroke-width="1.2" stroke-linejoin="round"/>
<!-- front -->
<path d="M-29.9,-60.8Q-29.9,-63.4 -27.4,-63.5L-20.2,-63.9L-19.3,-67.9L10.3,-58.5L12.1,-55.6L18.8,-52.6Q21.3,-51.6 21.3,-49L21.3,-16.8Q21.3,-14.6 19.6,-13.2L0,3.2Q-1.6,4.4 -3.2,3.1L-28.4,-18.6Q-29.9,-19.9 -29.9,-21.9Z" fill="url(#shf)"/>
<!-- white panel -->
<path d="M-22.1,-54.4Q-22.1,-56.6 -20,-56L12.6,-48.4Q14.6,-47.9 14.6,-45.9L14.6,-13.2Q14.6,-10.6 12.2,-11.3L-20.2,-20.5Q-22.1,-21.1 -22.1,-23.1Z" fill="#e6ecf9"/>
<g fill="none" stroke="#2a6ae8" stroke-width="2.5" stroke-linecap="round">
<path d="M-17,-47.4L-13.6,-45.6"/><path d="M-17,-41.8L-8,-36.6"/><path d="M-17,-35.4L-8,-30.2"/><path d="M-17,-29L-11,-25.6"/>
<path d="M8.6,-41.4L1,-42.9Q-2.6,-42.6 -2.2,-38.6Q-1.6,-35.2 2,-34.4L8.6,-33"/>
</g>
<circle cx="-0.2" cy="-26" r="3.5" fill="#2a6ae8"/>
<circle cx="-9.2" cy="-24.6" r="1.7" fill="#2a6ae8"/>
</g>
</g>
<g transform="translate(730.5 467.0)"><use href="#plat"/><g><path d="M-27.9,-55.4L-27.9,-7.9A28.1,9.7 0 0 0 28.3,-7.9L28.3,-55.4Z" fill="url(#cylb)"/><path d="M-27.0,-38.9A27.2,8.2 0 0 0 27.4,-38.9" fill="none" stroke="#3a7eea" stroke-width="3.2"/><path d="M-27.0,-22.9A27.2,8.2 0 0 0 27.4,-22.9" fill="none" stroke="#3a7eea" stroke-width="3.2"/><ellipse cx="0.2" cy="-55.4" rx="28.1" ry="11.4" fill="url(#cylt)"/><path d="M18.9,-26.5L20.6,-16.5" stroke="#fff" stroke-width="1.2"/><circle cx="18.9" cy="-26.5" r="2.9" fill="#2f80f0" stroke="#9cc6fa" stroke-width="1"/><g transform="rotate(14 21.7 -6.4)"><ellipse cx="21.7" cy="-6.4" rx="9.8" ry="11.3" fill="url(#teal)" stroke="#fff" stroke-width="2"/><path d="M18.2,-6.2L22.6,-9.6L25.2,-6.6L20.8,-3.2Z" fill="#eafcff"/></g></g></g>

<!-- text -->
<g fill="#fff" class="lbl">
<text x="175.66" y="62.39" font-size="28.35"><tspan font-size="30.34">USDf</tspan>常规铸造流程</text>
<text x="232.00" y="239.06" font-size="23.62"><tspan font-size="25.27">1:1</tspan>兑换<tspan font-size="25.27">USDf</tspan></text>
<text x="49.32" y="326.40" font-size="24.38">USDT/USDC</text>
<text x="73.21" y="362.29" font-size="23.64">存入协议</text>
<text x="239.55" y="315.08" font-size="23.95">零波动风险</text>
<text x="250.74" y="352.02" font-size="24.34">即时到账</text>
<text x="419.51" y="326.36" font-size="23.11">获取<tspan font-size="24.72">sUSDf</tspan></text>
<text x="429.94" y="362.67" font-size="24.20">享受收益</text>
<text x="323.31" y="545.58" font-size="23.93">随时退回原稳定币</text>
<text x="121.01" y="545.50" font-size="23.21">获取<tspan font-size="24.83">sUSDf</tspan></text>
<text x="132.55" y="582.34" font-size="24.12">享受收益</text>
<text x="766.15" y="62.21" font-size="28.27">创新铸造流程</text>
<text x="744.04" y="239.34" font-size="24.09">设定<tspan font-size="25.77">70%80%</tspan>抵盜率</text>
<text x="593.83" y="331.04" font-size="23.57"><tspan font-size="25.22">BTC/ETH</tspan>抵押</text>
<text x="806.60" y="314.88" font-size="23.85">资产活化</text>
<text x="782.34" y="351.90" font-size="23.92">需追加保证金</text>
<text x="977.72" y="330.69" font-size="23.27">抅造<tspan font-size="24.90">USDf</tspan></text>
<text x="897.63" y="546.14" font-size="24.02">需追加保证金</text>
<text x="897.73" y="582.15" font-size="24.03">到期退回资产</text>
<text x="632.26" y="546.06" font-size="23.96">抵搭期间资产托管<tspan font-size="25.64">/</tspan></text>
<text x="656.66" y="582.31" font-size="23.89">价格流动处理</text>
</g>
</svg>
<div class="badge"></div>
<svg style="position:absolute;left:0;top:0" width="140" height="70" viewBox="0 0 140 70"><g fill="#a9b0bf" class="lbl">
<text x="22.94" y="47.60" font-size="29.39">AI</text>
<text x="56.84" y="47.19" font-size="28.92">生成</text>
</g></svg>
</div>
</body>
</html>
